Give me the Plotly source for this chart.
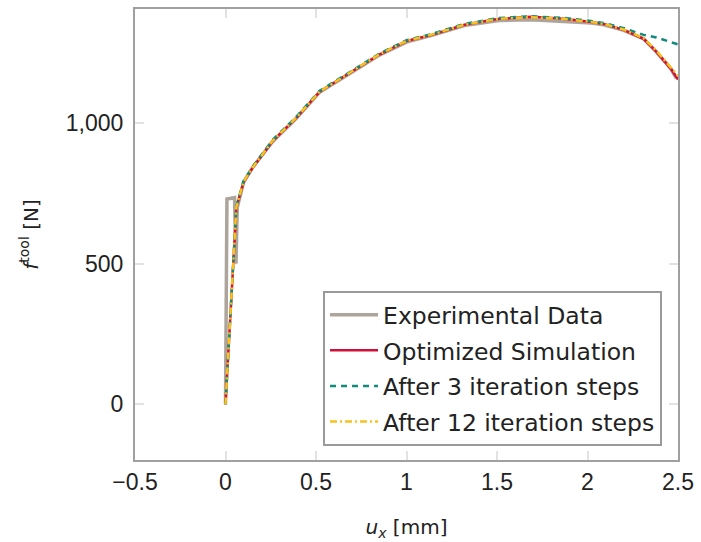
import plotly.graph_objects as go

# ---- data ----
exp_x = [0, 0.008, 0.05, 0.058, 0.065, 0.1, 0.15, 0.26, 0.39, 0.52, 0.7, 0.85, 1.0,
         1.14, 1.32, 1.51, 1.69, 1.87, 2.02, 2.09, 2.2, 2.31, 2.38, 2.46, 2.49]
exp_y = [0, 730, 735, 500, 700, 790, 843, 934, 1016, 1110, 1182, 1242, 1288,
         1312, 1347, 1365, 1368, 1363, 1356, 1350, 1330, 1300, 1254, 1194, 1160]

sim_x = [0, 0.06, 0.1, 0.15, 0.26, 0.39, 0.52, 0.7, 0.85, 1.0, 1.14, 1.32, 1.51,
         1.69, 1.87, 2.02, 2.09, 2.2, 2.31, 2.38, 2.46, 2.5]
sim_y = [0, 700, 790, 841, 936, 1018, 1112, 1184, 1244, 1292, 1314, 1350, 1371,
         1378, 1371, 1360, 1353, 1332, 1300, 1254, 1194, 1155]

it3_x = [0, 0.06, 0.1, 0.15, 0.26, 0.39, 0.52, 0.7, 0.85, 1.0, 1.14, 1.32, 1.51,
         1.69, 1.87, 2.02, 2.09, 2.2, 2.31, 2.38, 2.46, 2.5]
it3_y = [0, 705, 795, 845, 940, 1022, 1115, 1188, 1247, 1295, 1317, 1353, 1374,
         1380, 1374, 1363, 1356, 1338, 1314, 1305, 1290, 1280]

it12_x = [0, 0.06, 0.1, 0.15, 0.26, 0.39, 0.52, 0.7, 0.85, 1.0, 1.14, 1.32, 1.51,
          1.69, 1.87, 2.02, 2.09, 2.2, 2.31, 2.38, 2.46, 2.5]
it12_y = [0, 702, 792, 842, 937, 1019, 1112, 1185, 1245, 1292, 1315, 1350, 1371,
          1377, 1371, 1360, 1353, 1333, 1302, 1258, 1200, 1168]

x_ticks = [-0.5, 0, 0.5, 1, 1.5, 2, 2.5]
x_tick_labels = ["\u22120.5", "0", "0.5", "1", "1.5", "2", "2.5"]
y_ticks = [0, 500, 1000]
y_tick_labels = ["0", "500", "1,000"]

names = ["Experimental Data", "Optimized Simulation",
         "After 3 iteration steps", "After 12 iteration steps"]

# ---- figure ----
fig = go.Figure()
fig.add_trace(go.Scatter(x=exp_x, y=exp_y, mode="lines", name=names[0],
                         legendgroup="a",
                         line=dict(color="#ada49c", width=3.5)))
fig.add_trace(go.Scatter(x=sim_x, y=sim_y, mode="lines", name=names[1],
                         legendgroup="b",
                         line=dict(color="#d0103a", width=2.5)))
fig.add_trace(go.Scatter(x=it3_x, y=it3_y, mode="lines", name=names[2],
                         legendgroup="c",
                         line=dict(color="#138a7c", width=2.5, dash="6px,5px")))
fig.add_trace(go.Scatter(x=it12_x, y=it12_y, mode="lines", name=names[3],
                         legendgroup="d",
                         line=dict(color="#f8c21c", width=2.5, dash="7px,3px,2px,3px")))

axis_common = dict(
    showline=True, linecolor="#a0a0a0", linewidth=2, mirror="ticks",
    ticks="inside", ticklen=9, tickwidth=2, tickcolor="#e2e2e2",
    showgrid=False, zeroline=False,
    tickfont=dict(family="Liberation Sans", size=23, color="#222222"),
)

fig.update_xaxes(range=[-0.5, 2.5], tickvals=x_ticks, ticktext=x_tick_labels,
                 title=dict(text="<i>u<sub>x</sub></i> [mm]",
                            font=dict(family="DejaVu Sans", size=20, color="#222222"),
                            standoff=26),
                 **axis_common)
fig.update_yaxes(range=[-198, 1406], tickvals=y_ticks, ticktext=y_tick_labels,
                 ticklabelstandoff=5,
                 title=dict(text="<i>f</i><sup>tool</sup> [N]",
                            font=dict(family="DejaVu Sans", size=20, color="#222222"),
                            standoff=22),
                 **axis_common)

fig.update_layout(
    width=701, height=542,
    margin=dict(l=135, r=21, t=7, b=81),
    paper_bgcolor="white", plot_bgcolor="white",
    showlegend=True,
    legend=dict(x=0.9706, y=0.031, xanchor="right", yanchor="bottom",
                bgcolor="white", bordercolor="#9a9a9a", borderwidth=2,
                font=dict(family="DejaVu Sans", size=23.5, color="#222222"),
                itemwidth=48,
                traceorder="grouped", tracegroupgap=2),
)

fig.write_html("out.html")
